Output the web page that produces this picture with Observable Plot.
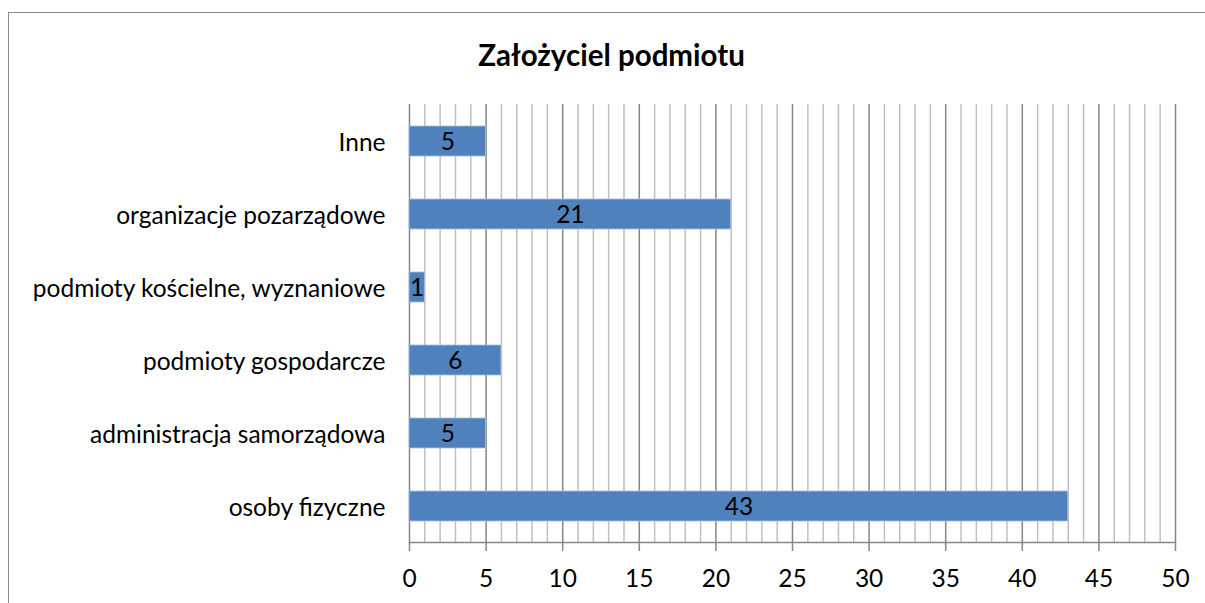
<!DOCTYPE html>
<html>
<head>
<meta charset="utf-8">
<script src="https://cdn.jsdelivr.net/npm/d3@7"></script>
<script src="https://cdn.jsdelivr.net/npm/@observablehq/plot@0.6"></script>
<style>
  html, body { margin: 0; padding: 0; background: #fff; }
  #wrap { position: relative; width: 1205px; height: 603px; overflow: hidden; }
  #frame { position: absolute; left: 8px; top: 12px; width: 1300px; height: 700px; border-left: 1.5px solid #8a8a8a; border-top: 1.5px solid #8a8a8a; box-sizing: border-box; }
  #title { position: absolute; left: 0; top: 40px; width: 1223px; text-align: center; font-family: Lato, "Open Sans", sans-serif; font-weight: bold; font-size: 29.5px; line-height: 1; color: #000; }
  #chart { position: absolute; left: 0; top: 0; }
</style>
</head>
<body>
<div id="wrap">
  <div id="frame"></div>
  <div id="chart"></div>
  <div id="title">Założyciel podmiotu</div>
</div>
<script>
const categories = ["Inne", "organizacje pozarządowe", "podmioty kościelne, wyznaniowe", "podmioty gospodarcze", "administracja samorządowa", "osoby fizyczne"];
const values = [5, 21, 1, 6, 5, 43];
const xTicks = [0, 5, 10, 15, 20, 25, 30, 35, 40, 45, 50];
const minorTicks = d3.range(0, 51, 1);

const data = categories.map((c, i) => ({category: c, value: values[i]}));

const chart = Plot.plot({
  width: 1205,
  height: 603,
  marginLeft: 409,
  marginRight: 30,
  marginTop: 104,
  marginBottom: 61,
  style: {fontFamily: "Lato, 'Open Sans', sans-serif", fontSize: "24.5px", color: "#000", background: "transparent"},
  x: {domain: [0, 50], ticks: xTicks, label: null},
  y: {domain: categories, paddingInner: 0.59, paddingOuter: 0.295, label: null},
  marks: [
    Plot.ruleX(minorTicks.filter(d => d % 5 !== 0), {stroke: "#c0c0c0", strokeWidth: 1.5}),
    Plot.ruleX(xTicks, {stroke: "#868686", strokeWidth: 1.5}),
    Plot.barX(data, {y: "category", x: "value", fill: "#4f81bd", stroke: "#a7c0de", strokeWidth: 0.8}),
    Plot.text(data, {y: "category", x: d => d.value / 2, text: d => String(d.value), fill: "#000", fontSize: 24.5, dy: 1}),
    Plot.frame({anchor: "bottom", stroke: "#868686", strokeWidth: 1.5}),
    Plot.axisX({ticks: xTicks, tickSize: 9, tickPadding: 18, stroke: "#868686", strokeWidth: 1.5, label: null, fontSize: 24.5}),
    Plot.axisY({tickSize: 0, tickPadding: 24, label: null, fontSize: 24.5, dy: 2})
  ]
});
document.getElementById("chart").appendChild(chart);
</script>
</body>
</html>
